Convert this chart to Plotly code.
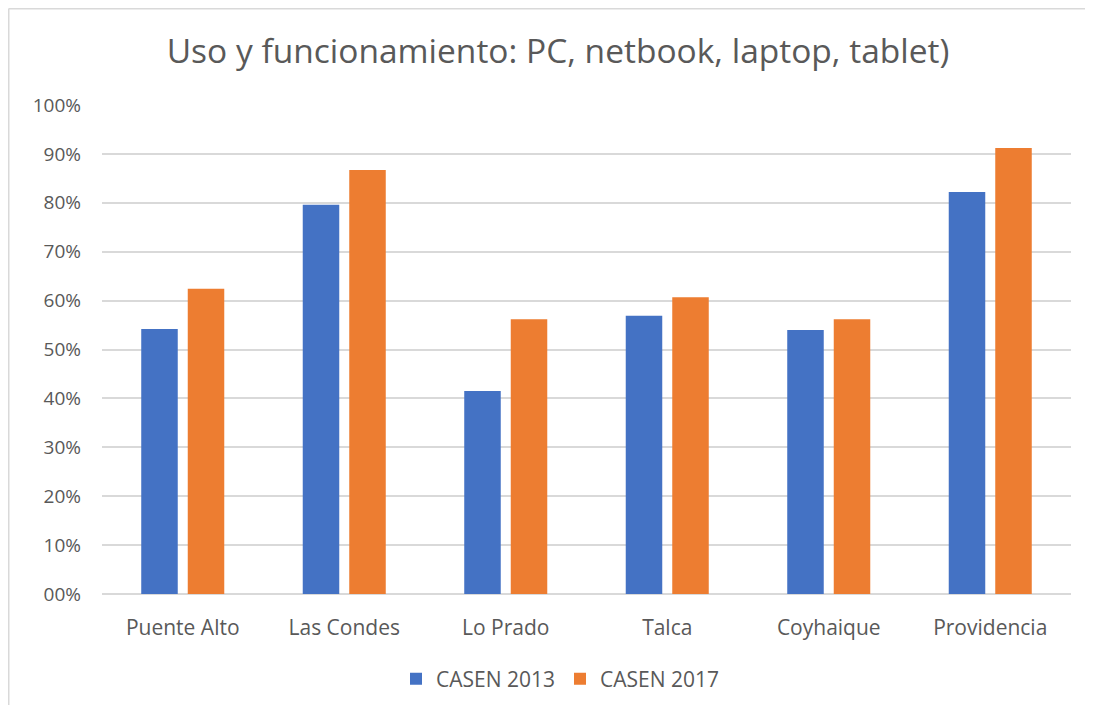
import plotly.graph_objects as go

categories = ["Puente Alto", "Las Condes", "Lo Prado", "Talca", "Coyhaique", "Providencia"]
casen_2013 = [0.542, 0.796, 0.415, 0.569, 0.540, 0.822]
casen_2017 = [0.624, 0.867, 0.562, 0.607, 0.562, 0.912]
tick_values = [0, 0.1, 0.2, 0.3, 0.4, 0.5, 0.6, 0.7, 0.8, 0.9, 1.0]
tick_labels = ["00%", "10%", "20%", "30%", "40%", "50%", "60%", "70%", "80%", "90%", "100%"]

FONT = "Open Sans"
GRAY = "#595959"

fig = go.Figure()
fig.add_trace(go.Bar(name="CASEN 2013", x=categories, y=casen_2013,
                     marker=dict(color="#4472C4", line=dict(width=0))))
fig.add_trace(go.Bar(name="CASEN 2017", x=categories, y=casen_2017,
                     marker=dict(color="#ED7D31", line=dict(width=0))))

# page has 8px body margin
W, H = 1077, 697
L, R, T, B = 94, 14, 97, 111
pw, ph = W - L - R, H - T - B

fig.update_layout(
    width=W, height=H,
    margin=dict(l=L, r=R, t=T, b=B, pad=0, autoexpand=False),
    paper_bgcolor="white", plot_bgcolor="white",
    barmode="group", bargap=0.424, bargroupgap=0.215,
    title=dict(text="Uso y funcionamiento: PC, netbook, laptop, tablet)",
               x=(558 - 8) / W, xanchor="center", y=1 - (51 - 8) / H, yanchor="middle",
               font=dict(family=FONT, size=33.5, color=GRAY)),
    font=dict(family=FONT, color=GRAY),
    legend=dict(orientation="h", xref="container", yref="container",
                x=(560 - 8) / W, xanchor="center",
                y=1 - (679 - 8) / H, yanchor="middle",
                font=dict(family=FONT, size=21, color=GRAY), itemwidth=30,
                traceorder="normal"),
    xaxis=dict(showgrid=False, showline=False, ticks="", ticklabelstandoff=19,
               automargin=False,
               tickfont=dict(family=FONT, size=21, color=GRAY)),
    yaxis=dict(range=[0, 1.0], tickvals=tick_values, ticktext=tick_labels,
               showgrid=True, gridcolor="#d9d9d9", gridwidth=1.5,
               zeroline=True, zerolinecolor="#d9d9d9", zerolinewidth=1.5,
               showline=False, ticks="", ticklabelstandoff=20, automargin=False,
               tickfont=dict(family=FONT, size=19, color=GRAY)),
    shapes=[
        dict(type="line", xref="paper", yref="paper",
             x0=(0.75 - L) / pw, x1=(0.75 - L) / pw,
             y0=(586 - 697) / ph, y1=(586 - 0.5) / ph,
             line=dict(color="#d9d9d9", width=1.5), layer="below"),
        dict(type="line", xref="paper", yref="paper",
             x0=(0.75 - L) / pw, x1=(1077 - L) / pw,
             y0=(586 - 0.75) / ph, y1=(586 - 0.75) / ph,
             line=dict(color="#d9d9d9", width=1.5), layer="below"),
    ],
)

fig.write_html("out.html")
